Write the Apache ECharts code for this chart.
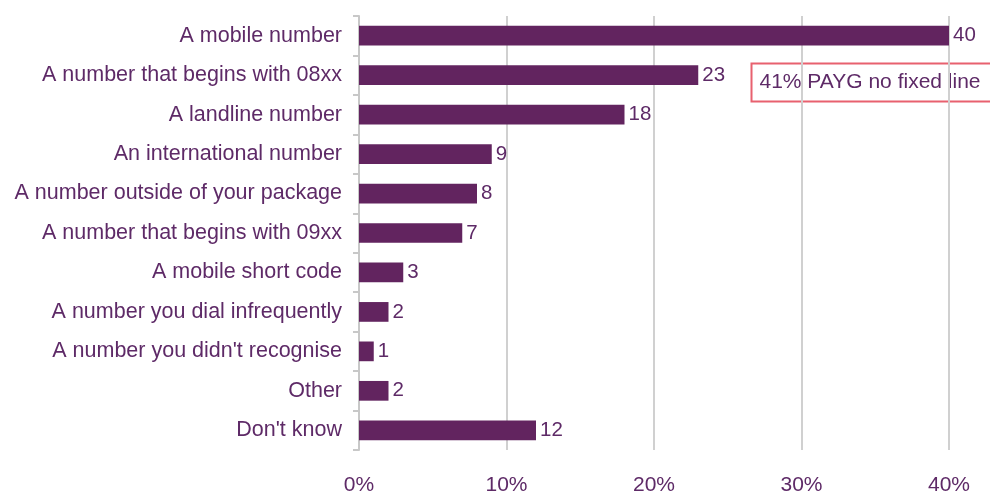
<!DOCTYPE html>
<html>
<head>
<meta charset="utf-8">
<script src="https://cdn.jsdelivr.net/npm/echarts@6/dist/echarts.min.js"></script>
<style>
  html, body { margin: 0; padding: 0; background: #ffffff; }
  #chart { width: 990px; height: 496px; }
</style>
</head>
<body>
<div id="chart"></div>
<script>
// Number types called, top to bottom
const categories = [
  "A mobile number",
  "A number that begins with 08xx",
  "A landline number",
  "An international number",
  "A number outside of your package",
  "A number that begins with 09xx",
  "A mobile short code",
  "A number you dial infrequently",
  "A number you didn't recognise",
  "Other",
  "Don't know"
];
// Share of respondents (%)
const values = [40, 23, 18, 9, 8, 7, 3, 2, 1, 2, 12];
// X-axis ticks (%)
const xTicks = [0, 10, 20, 30, 40];
const noteText = "41% PAYG no fixed line";

const purple = "#62245f";
const textPurple = "#5e2a67";
const font = "Liberation Sans, Arial, sans-serif";

const chart = echarts.init(document.getElementById("chart"), null, { renderer: "canvas" });

chart.setOption({
  animation: false,
  backgroundColor: "#ffffff",
  grid: { left: 359, right: 41, top: 16, bottom: 43, containLabel: false },
  xAxis: {
    type: "value",
    min: xTicks[0],
    max: xTicks[xTicks.length - 1],
    interval: xTicks[1] - xTicks[0],
    axisLine: { show: false },
    axisTick: { show: false },
    splitLine: { show: true, lineStyle: { color: "#d0d0d0", width: 2 } },
    axisLabel: {
      formatter: v => v + "%",
      color: textPurple,
      fontFamily: font,
      fontSize: 21,
      margin: 25
    }
  },
  yAxis: {
    type: "category",
    inverse: true,
    data: categories,
    axisLine: { show: true, lineStyle: { color: "#c8c8c8", width: 2 } },
    axisTick: { show: true, length: 6, lineStyle: { color: "#c8c8c8", width: 2 } },
    axisLabel: {
      color: textPurple,
      fontFamily: font,
      fontSize: 21.5,
      margin: 17,
      padding: [4, 0, 0, 0]
    }
  },
  series: [{
    type: "bar",
    data: values,
    barCategoryGap: "50%",
    itemStyle: { color: purple },
    label: {
      show: true,
      position: "right",
      distance: 4,
      color: textPurple,
      fontFamily: font,
      fontSize: 20.5
    }
  }],
  graphic: [{
    type: "group",
    left: 749,
    top: 61,
    children: [
      {
        type: "rect",
        shape: { x: 0, y: 0, width: 260, height: 38 },
        style: { fill: "none", stroke: "#e8616f", lineWidth: 2 }
      },
      {
        type: "text",
        x: 8,
        y: 19,
        style: {
          text: noteText,
          fill: textPurple,
          font: "21px " + font,
          textVerticalAlign: "middle",
          verticalAlign: "middle"
        }
      }
    ]
  }]
});
</script>
</body>
</html>
